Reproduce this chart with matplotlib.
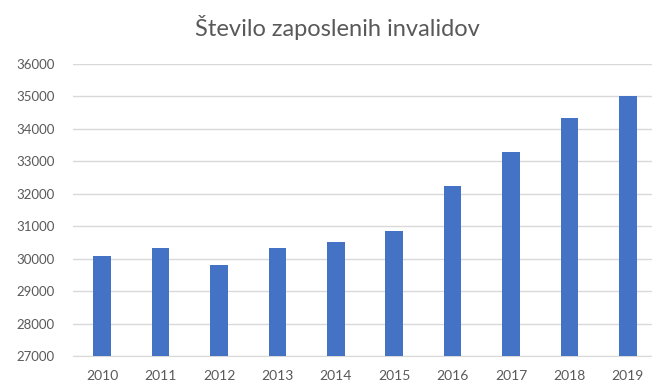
import matplotlib.pyplot as plt

years = ["2010", "2011", "2012", "2013", "2014", "2015", "2016", "2017", "2018", "2019"]
employed = [30080, 30320, 29800, 30320, 30510, 30840, 32230, 33280, 34340, 35000]
y_ticks = [27000, 28000, 29000, 30000, 31000, 32000, 33000, 34000, 35000, 36000]

BAR = "#4472C4"
TEXT = "#595959"
GRID = "#D9D9D9"


def main() -> None:
    plt.rcParams["font.family"] = ["Lato", "DejaVu Sans"]
    fig = plt.figure(figsize=(6.52, 3.87), dpi=100)
    ax = fig.add_axes([73 / 652, 31 / 387, 584 / 652, 292 / 387])

    x = range(len(years))
    ax.bar(x, [v - y_ticks[0] for v in employed], bottom=y_ticks[0],
           width=0.3, color=BAR, zorder=3)

    ax.set_xlim(-0.5, len(years) - 0.5)
    ax.set_ylim(y_ticks[0], y_ticks[-1])
    ax.set_yticks(y_ticks)
    ax.set_yticklabels([str(t) for t in y_ticks])
    ax.set_xticks(list(x))
    ax.set_xticklabels(years)
    ax.tick_params(length=0, colors=TEXT)
    ax.tick_params(axis="y", labelsize=9.5, pad=13)
    ax.tick_params(axis="x", labelsize=10, pad=10)
    ax.grid(axis="y", color=GRID, linewidth=1.0, zorder=0)
    for side in ("top", "right", "left"):
        ax.spines[side].set_visible(False)
    ax.spines["bottom"].set_color(GRID)

    fig.text(0.518, 0.928, "Število zaposlenih invalidov", ha="center",
             va="center", fontsize=17, color=TEXT)

    fig.savefig("out.png", dpi=100)


if __name__ == "__main__":
    main()
